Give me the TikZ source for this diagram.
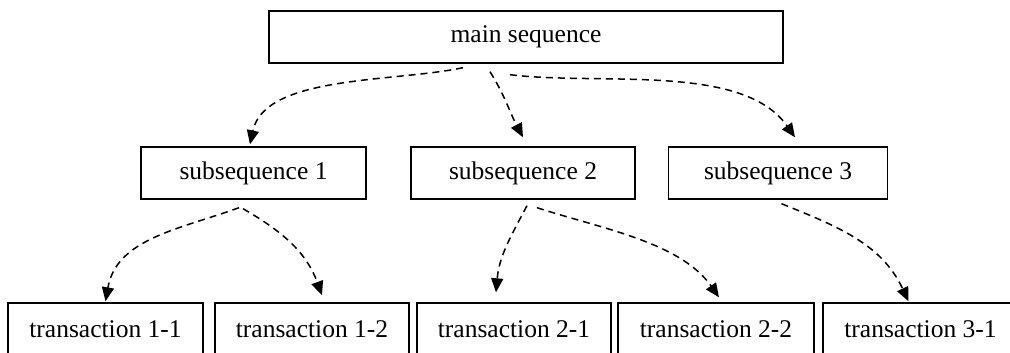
\documentclass[tikz,border=0pt]{standalone}
\usepackage{fontspec}
\setmainfont{Liberation Serif}
\usetikzlibrary{arrows.meta, calc}

\tikzset{
  seqbox/.style = {rectangle, line width = 1.4pt, draw = black, fill = white, inner sep = 0pt, minimum height = 52pt, font = \fontsize{25.5}{30}\selectfont},
  link/.style = {draw, line width = 1.5pt, dash pattern = on 7pt off 5pt, -{Triangle[length = 14pt, width = 12pt]}}
}

\begin{document}
\begin{tikzpicture}[x = 1pt, y = 1pt]

\clip (0, 0) rectangle (1010, 353);

\node[seqbox, minimum width = 514pt] (main) at (526, 316) {main sequence};

\node[seqbox, minimum width = 225pt] (sub1) at (253.5, 180) {subsequence 1};
\node[seqbox, minimum width = 224pt] (sub2) at (523, 180) {subsequence 2};
\node[seqbox, minimum width = 219pt] (sub3) at (778, 180) {subsequence 3};

\node[seqbox, minimum width = 195pt, minimum height = 53pt] (tr11) at (105.5, 23.5) {transaction 1-1};
\node[seqbox, minimum width = 194pt, minimum height = 53pt] (tr12) at (312, 23.5) {transaction 1-2};
\node[seqbox, minimum width = 194pt, minimum height = 53pt] (tr21) at (514, 23.5) {transaction 2-1};
\node[seqbox, minimum width = 196pt, minimum height = 53pt] (tr22) at (716, 23.5) {transaction 2-2};
\node[seqbox, minimum width = 195pt, minimum height = 53pt] (tr31) at (920.5, 23.5) {transaction 3-1};

% main sequence to subsequences
\path ($(main.south)+(-63, -4)$) edge [link, out = 192, in = 78, looseness = 0.8] ($(sub1.north)+(-3.5, 2)$);
\path ($(main.south)+(-36, -8)$) edge [link, out = -58, in = 118] ($(sub2.north)+(0, 9)$);
\path ($(main.south)+(-16, -11)$) edge [link, out = -7, in = 125, looseness = 0.8] ($(sub3.north)+(17, 9)$);

% subsequences to transactions
\path ($(sub1.south)+(-14.5, -8)$) edge [link, out = 200, in = 80] ($(tr11.north)+(0, 1)$);
\path ($(sub1.south)+(-10.5, -9)$) edge [link, out = -30, in = 110] ($(tr12.north)+(10, 7)$);
\path ($(sub2.south)+(4, -6)$) edge [link, out = -118, in = 85] ($(tr21.north)+(-18, 10)$);
\path ($(sub2.south)+(14, -8)$) edge [link, out = -18, in = 125, looseness = 0.85] ($(tr22.north)+(3, 5)$);
\path ($(sub3.south)+(3.5, -4)$) edge [link, out = -22, in = 115] ($(tr31.north)+(-12, 1)$);

\end{tikzpicture}
\end{document}
